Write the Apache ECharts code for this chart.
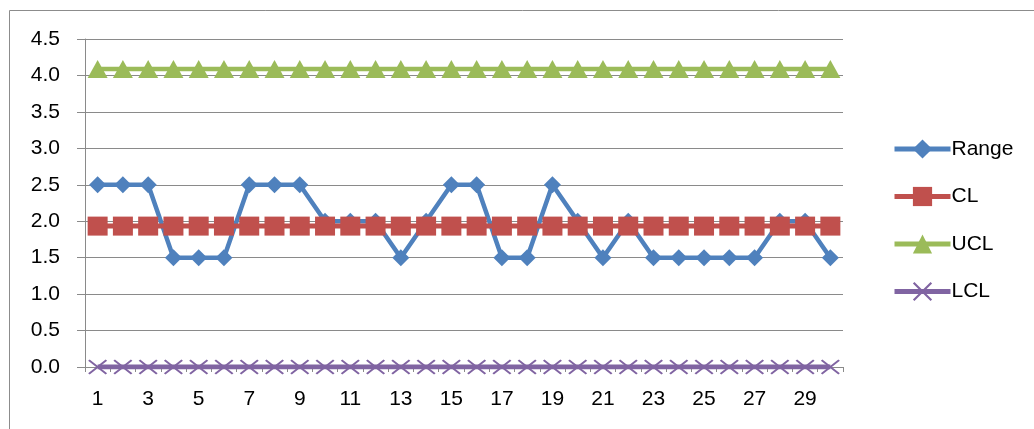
<!DOCTYPE html>
<html>
<head>
<meta charset="utf-8">
<script src="https://cdn.jsdelivr.net/npm/echarts@6/dist/echarts.min.js"></script>
<style>
  html, body { margin: 0; padding: 0; background: #fff; }
  #chart { width: 1034px; height: 429px; }
</style>
</head>
<body>
<div id="chart"></div>
<script>
// Sample numbers 1..30
const samples = Array.from({ length: 30 }, (_, i) => String(i + 1));

// Range per sample
const rangeValues = [2.5, 2.5, 2.5, 1.5, 1.5, 1.5, 2.5, 2.5, 2.5, 2.0,
                     2.0, 2.0, 1.5, 2.0, 2.5, 2.5, 1.5, 1.5, 2.5, 2.0,
                     1.5, 2.0, 1.5, 1.5, 1.5, 1.5, 1.5, 2.0, 2.0, 1.5];

// Control limits
const clValue = 1.933;
const uclValue = 4.087;
const lclValue = 0;

const clValues = samples.map(() => clValue);
const uclValues = samples.map(() => uclValue);
const lclValues = samples.map(() => lclValue);

const yTicks = { min: 0, max: 4.5, interval: 0.5 };

const FONT = '"Liberation Sans", Arial, sans-serif';
const FONT_SIZE = 21;
const GRID_COLOR = '#8a8a8a';
const crossPath = 'path://M0,0.8 L0.8,0 L5,4.2 L9.2,0 L10,0.8 L5.8,5 L10,9.2 L9.2,10 L5,5.8 L0.8,10 L0,9.2 L4.2,5 Z';

const chart = echarts.init(document.getElementById('chart'), null, { renderer: 'canvas' });

function lineSeries(name, data, color, symbol, symbolSize, width) {
  return {
    name, type: 'line', data,
    symbol, symbolSize,
    showAllSymbol: true,
    lineStyle: { color, width },
    itemStyle: { color, borderWidth: 0 },
    emphasis: { disabled: true }
  };
}

chart.setOption({
  animation: false,
  graphic: [{
    type: 'rect',
    shape: { x: 9.5, y: 10.5, width: 1100, height: 500 },
    style: { fill: 'none', stroke: '#8c8c8c', lineWidth: 1 },
    silent: true
  }],
  grid: { left: 85, top: 39, right: 191, bottom: 62 },
  legend: {
    orient: 'vertical',
    left: 887,
    top: 133,
    itemWidth: 56,
    itemHeight: 24,
    itemGap: 25.5,
    selectedMode: false,
    lineStyle: { width: 5 },
    textStyle: { fontFamily: FONT, fontSize: FONT_SIZE, lineHeight: 22, color: '#000', padding: [0, 0, 0, -4] },
    data: ['Range', 'CL', 'UCL', 'LCL']
  },
  xAxis: {
    type: 'category',
    data: samples,
    boundaryGap: true,
    axisLine: { lineStyle: { color: GRID_COLOR, width: 1 } },
    axisTick: { show: true, length: 5, lineStyle: { color: GRID_COLOR }, alignWithLabel: false, interval: 0 },
    axisLabel: { interval: 1, margin: 22, fontFamily: FONT, fontSize: FONT_SIZE, color: '#000' },
    splitLine: { show: false }
  },
  yAxis: {
    type: 'value',
    min: yTicks.min, max: yTicks.max, interval: yTicks.interval,
    axisLine: { show: true, lineStyle: { color: GRID_COLOR, width: 1 } },
    axisTick: { show: true, length: 8, lineStyle: { color: GRID_COLOR } },
    axisLabel: { margin: 25, fontFamily: FONT, fontSize: FONT_SIZE, color: '#000', formatter: v => v.toFixed(1) },
    splitLine: { show: true, lineStyle: { color: GRID_COLOR, width: 1 } }
  },
  series: [
    lineSeries('Range', rangeValues, '#4F81BD', 'diamond', [17, 17], 4.5),
    lineSeries('CL', clValues, '#C0504D', 'rect', [20, 19], 5),
    lineSeries('UCL', uclValues, '#9BBB59', 'triangle', [20, 18], 4.5),
    lineSeries('LCL', lclValues, '#8064A2', crossPath, [19, 15], 5)
  ]
});
</script>
</body>
</html>
